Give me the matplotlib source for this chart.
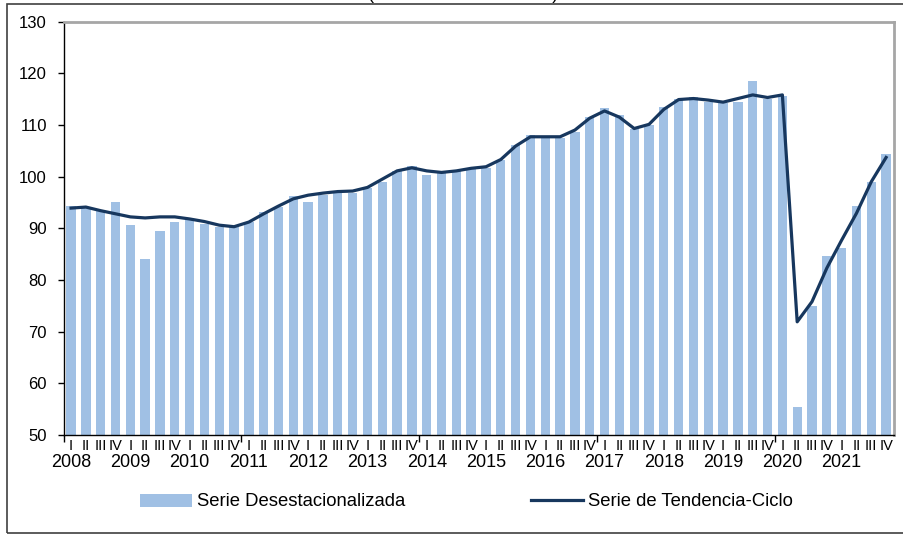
import numpy as np
import matplotlib.pyplot as plt
from matplotlib.patches import Rectangle

plt.rcParams['font.family'] = ['Liberation Sans', 'DejaVu Sans']

years = list(range(2008, 2022))
quarters = ['I', 'II', 'III', 'IV']

# serie desestacionalizada (barras), 2008-I a 2021-IV
desest = [94.4, 94.2, 93.3, 95.0,
          90.6, 84.0, 89.5, 91.2,
          91.6, 90.8, 90.3, 90.2,
          91.3, 93.2, 94.2, 96.3,
          95.1, 96.4, 96.8, 96.8,
          97.7, 99.0, 101.1, 102.0,
          100.3, 100.8, 101.1, 101.5,
          101.7, 103.3, 106.1, 108.0,
          107.5, 107.5, 108.7, 111.6,
          113.2, 112.0, 109.3, 110.0,
          113.4, 115.0, 115.4, 114.5,
          114.3, 114.5, 118.5, 115.0,
          115.6, 55.4, 75.0, 84.7,
          86.1, 94.3, 99.0, 104.4]

# serie de tendencia-ciclo (linea)
tendencia = [93.9, 94.1, 93.4, 92.8,
             92.2, 92.0, 92.2, 92.2,
             91.8, 91.3, 90.6, 90.3,
             91.2, 92.8, 94.3, 95.7,
             96.4, 96.8, 97.1, 97.2,
             97.9, 99.5, 101.1, 101.7,
             101.1, 100.8, 101.1, 101.6,
             101.9, 103.3, 105.9, 107.7,
             107.7, 107.7, 109.0, 111.3,
             112.7, 111.5, 109.3, 110.1,
             113.0, 114.9, 115.1, 114.8,
             114.4, 115.1, 115.8, 115.3,
             115.8, 71.9, 75.8, 82.3,
             87.7, 92.9, 99.0, 103.7]

fig = plt.figure(figsize=(9.04, 5.34), dpi=100)
ax = fig.add_axes([0.0704, 0.1854, 0.918, 0.7743])

x = np.arange(len(desest))
barras = ax.bar(x, desest, width=0.63, color='#A0C0E4', zorder=2)
linea, = ax.plot(x, tendencia, color='#17375E', lw=2.3, zorder=3)

ax.set_xlim(-0.5, len(x) - 0.5)
ax.set_ylim(50, 130)
ax.set_yticks(range(50, 131, 10))
ax.tick_params(axis='y', labelsize=12, length=4, width=1, pad=8, direction='out')

# etiquetas de trimestre en cada barra, marcas cada 12 trimestres
ax.set_xticks(x)
ax.set_xticklabels(quarters * len(years), fontsize=10.5)
ax.set_xticks(np.arange(-0.5, len(x), 12), minor=True)
ax.tick_params(axis='x', which='major', length=0, pad=3)
ax.tick_params(axis='x', which='minor', length=5, width=1, direction='out')

for k, yr in enumerate(years):
    ax.annotate(str(yr), xy=(4 * k, 0), xycoords=('data', 'axes fraction'),
                xytext=(0, -20), textcoords='offset points',
                ha='center', va='center', fontsize=13)

for s in ['top', 'right']:
    ax.spines[s].set_color('#A6A6A6')
    ax.spines[s].set_linewidth(2)
for s in ['left', 'bottom']:
    ax.spines[s].set_color('black')
    ax.spines[s].set_linewidth(1)

fig.legend([barras, linea], ['Serie Desestacionalizada', 'Serie de Tendencia-Ciclo'],
           loc='center', bbox_to_anchor=(0.516, 1 - 502 / 534), ncol=2,
           frameon=False, fontsize=13.3, handlelength=2.8, handletextpad=0.27,
           columnspacing=6.8)

# marco exterior y titulo cortado arriba
fig.add_artist(Rectangle((7 / 904, 1 / 534), 1.0, 0.9906, transform=fig.transFigure,
                         fill=False, edgecolor='#404040', lw=1.2, zorder=1))
fig.text(463 / 904, 1 + 1 / 534, '(Índice base 2014=100)', ha='center', va='baseline',
         fontsize=13, zorder=3,
         bbox=dict(facecolor='white', edgecolor='none', pad=0))

fig.savefig('out.png', dpi=100)
